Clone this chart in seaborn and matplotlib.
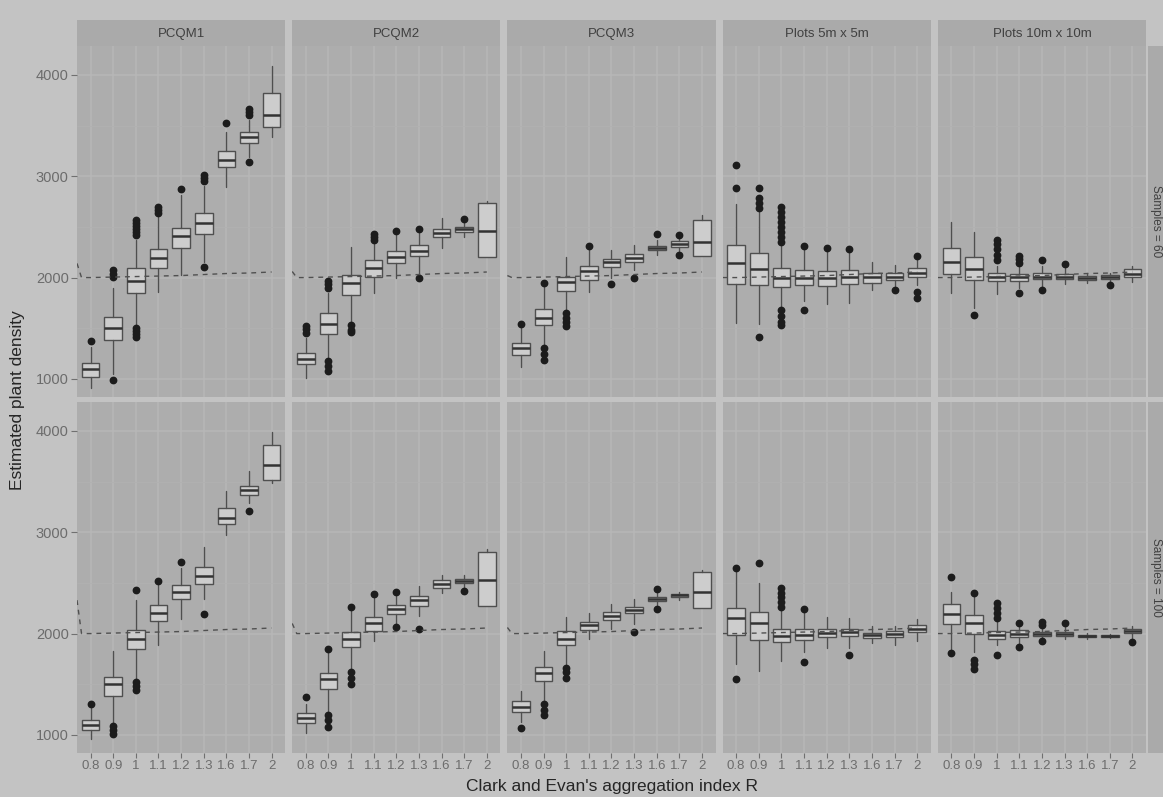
import matplotlib
matplotlib.use("Agg")
import matplotlib.pyplot as plt
import seaborn as sns

# ---------------- categories / labels ----------------
R_LABELS = ["0.8", "0.9", "1", "1.1", "1.2", "1.3", "1.6", "1.7", "2"]
METHODS = ["PCQM1", "PCQM2", "PCQM3", "Plots 5m x 5m", "Plots 10m x 10m"]
SAMPLES = ["Samples = 60", "Samples = 100"]
Y_TICKS = [1000, 2000, 3000, 4000]

# reference (true) density line, and its value at the left panel edge
TRUE_DENSITY = [2000, 2005, 2010, 2015, 2020, 2030, 2040, 2045, 2055]
EDGE_DENSITY_60 = [2140, 2060, 2020, 2000, 2000]
EDGE_DENSITY_100 = [2330, 2100, 2060, 2000, 2000]

# ---------------- Samples = 60 ----------------
pcqm1_60_lo = [910, 1050, 1520, 1860, 2030, 2150, 2890, 3190, 3390]
pcqm1_60_q1 = [1020, 1380, 1850, 2090, 2290, 2430, 3090, 3330, 3490]
pcqm1_60_med = [1100, 1500, 1970, 2190, 2410, 2540, 3160, 3390, 3600]
pcqm1_60_q3 = [1160, 1610, 2090, 2280, 2490, 2640, 3250, 3440, 3820]
pcqm1_60_hi = [1310, 1900, 2370, 2600, 2820, 2900, 3440, 3560, 4090]
pcqm1_60_out = [[1370], [2010, 2040, 2070, 990], [2420, 2450, 2480, 2510, 2540, 2570, 1500, 1470, 1440, 1410],
                [2640, 2670, 2700], [2870], [2950, 2980, 3010, 2100], [3530], [3600, 3630, 3660, 3140], []]

pcqm2_60_lo = [1010, 1220, 1560, 1850, 2000, 2040, 2290, 2400, 2200]
pcqm2_60_q1 = [1150, 1440, 1830, 2010, 2140, 2210, 2400, 2450, 2200]
pcqm2_60_med = [1200, 1540, 1950, 2090, 2200, 2260, 2440, 2480, 2460]
pcqm2_60_q3 = [1260, 1650, 2030, 2170, 2260, 2320, 2480, 2500, 2740]
pcqm2_60_hi = [1400, 1850, 2300, 2330, 2420, 2440, 2590, 2550, 2760]
pcqm2_60_out = [[1450, 1490, 1520], [1900, 1940, 1970, 1180, 1130, 1080], [1530, 1480, 1460],
                [2370, 2400, 2430], [2460], [2480, 2000], [], [2580], []]

pcqm3_60_lo = [1120, 1320, 1680, 1860, 2000, 2070, 2220, 2260, 2210]
pcqm3_60_q1 = [1240, 1530, 1870, 1980, 2100, 2150, 2270, 2300, 2210]
pcqm3_60_med = [1300, 1600, 1960, 2060, 2150, 2190, 2290, 2330, 2350]
pcqm3_60_q3 = [1350, 1690, 2010, 2110, 2180, 2230, 2310, 2360, 2570]
pcqm3_60_hi = [1500, 1920, 2200, 2280, 2270, 2320, 2370, 2400, 2620]
pcqm3_60_out = [[1540], [1950, 1300, 1250, 1190], [1650, 1600, 1560, 1520], [2310], [1940], [2000],
                [2430], [2420, 2220], []]

plot5_60_lo = [1550, 1540, 1700, 1770, 1740, 1750, 1880, 1920, 1930]
plot5_60_q1 = [1940, 1930, 1910, 1930, 1920, 1940, 1950, 1980, 2010]
plot5_60_med = [2140, 2080, 2000, 2000, 2000, 2010, 2010, 2010, 2050]
plot5_60_q3 = [2320, 2240, 2090, 2070, 2060, 2070, 2050, 2050, 2090]
plot5_60_hi = [2730, 2650, 2310, 2280, 2260, 2250, 2150, 2120, 2180]
plot5_60_out = [[2880, 3110], [2690, 2740, 2790, 2880, 1410],
                [2350, 2400, 2450, 2500, 2550, 2600, 2650, 2700, 1680, 1620, 1560, 1530],
                [2310, 1680], [2290], [2280], [], [1880], [2210, 1860, 1800]]

plot10_60_lo = [1850, 1700, 1840, 1900, 1910, 1940, 1950, 1960, 1960]
plot10_60_q1 = [2040, 1980, 1970, 1970, 1990, 1990, 1980, 1990, 2010]
plot10_60_med = [2150, 2080, 2010, 2010, 2010, 2010, 2000, 2010, 2040]
plot10_60_q3 = [2290, 2200, 2050, 2040, 2050, 2040, 2020, 2030, 2080]
plot10_60_hi = [2550, 2450, 2110, 2100, 2110, 2090, 2050, 2050, 2110]
plot10_60_out = [[], [1630], [2170, 2220, 2280, 2330, 2370], [2140, 2180, 2210, 1850], [2170, 1880],
                 [2130], [], [1930], []]

# ---------------- Samples = 100 ----------------
pcqm1_100_lo = [960, 1120, 1550, 1890, 2140, 2340, 2970, 3290, 3490]
pcqm1_100_q1 = [1050, 1380, 1850, 2120, 2340, 2490, 3080, 3370, 3520]
pcqm1_100_med = [1100, 1500, 1950, 2200, 2410, 2570, 3140, 3420, 3660]
pcqm1_100_q3 = [1150, 1570, 2040, 2280, 2480, 2660, 3240, 3460, 3860]
pcqm1_100_hi = [1270, 1830, 2330, 2480, 2650, 2850, 3410, 3600, 3990]
pcqm1_100_out = [[1300], [1090, 1050, 1010], [2430, 1520, 1480, 1440], [2520], [2710], [2190], [],
                 [3210], []]

pcqm2_100_lo = [1020, 1230, 1650, 1930, 2090, 2170, 2400, 2450, 2270]
pcqm2_100_q1 = [1120, 1450, 1870, 2030, 2190, 2270, 2450, 2500, 2270]
pcqm2_100_med = [1170, 1550, 1950, 2100, 2240, 2330, 2490, 2520, 2530]
pcqm2_100_q3 = [1220, 1610, 2020, 2160, 2280, 2370, 2530, 2540, 2810]
pcqm2_100_hi = [1300, 1820, 2220, 2350, 2370, 2470, 2580, 2580, 2830]
pcqm2_100_out = [[1370], [1850, 1200, 1150, 1080], [2260, 1620, 1560, 1500], [2390], [2410, 2060],
                 [2050], [], [2420], []]

pcqm3_100_lo = [1130, 1330, 1700, 1950, 2050, 2090, 2280, 2330, 2250]
pcqm3_100_q1 = [1230, 1530, 1890, 2040, 2130, 2200, 2320, 2360, 2250]
pcqm3_100_med = [1280, 1610, 1950, 2080, 2170, 2230, 2340, 2380, 2410]
pcqm3_100_q3 = [1330, 1670, 2030, 2110, 2210, 2260, 2360, 2390, 2610]
pcqm3_100_hi = [1430, 1830, 2160, 2200, 2290, 2340, 2400, 2410, 2630]
pcqm3_100_out = [[1070], [1300, 1250, 1200], [1660, 1620, 1560], [], [], [2020], [2440, 2240], [], []]

plot5_100_lo = [1700, 1630, 1730, 1820, 1860, 1860, 1910, 1890, 1930]
plot5_100_q1 = [1990, 1940, 1920, 1940, 1970, 1980, 1960, 1970, 2020]
plot5_100_med = [2150, 2100, 1980, 1990, 2010, 2020, 1990, 2000, 2050]
plot5_100_q3 = [2250, 2210, 2050, 2050, 2050, 2050, 2010, 2030, 2080]
plot5_100_hi = [2610, 2500, 2230, 2210, 2160, 2150, 2070, 2070, 2140]
plot5_100_out = [[2650, 1550], [2700], [2260, 2310, 2360, 2400, 2450], [2240, 1720], [], [1790], [], [], []]

plot10_100_lo = [1850, 1820, 1890, 1900, 1940, 1950, 1950, 1960, 1960]
plot10_100_q1 = [2090, 2000, 1950, 1970, 1980, 1980, 1970, 1970, 2010]
plot10_100_med = [2190, 2100, 1990, 2000, 2000, 2000, 1980, 1980, 2030]
plot10_100_q3 = [2290, 2180, 2030, 2040, 2020, 2020, 1990, 1990, 2050]
plot10_100_hi = [2410, 2370, 2120, 2080, 2060, 2070, 2010, 2000, 2070]
plot10_100_out = [[2560, 1810], [2400, 1740, 1700, 1650], [2150, 2200, 2250, 2300, 1790], [2100, 1870],
                  [2110, 2080, 1930], [2100], [], [], [1920]]

PANELS = [
    [(pcqm1_60_lo, pcqm1_60_q1, pcqm1_60_med, pcqm1_60_q3, pcqm1_60_hi, pcqm1_60_out),
     (pcqm2_60_lo, pcqm2_60_q1, pcqm2_60_med, pcqm2_60_q3, pcqm2_60_hi, pcqm2_60_out),
     (pcqm3_60_lo, pcqm3_60_q1, pcqm3_60_med, pcqm3_60_q3, pcqm3_60_hi, pcqm3_60_out),
     (plot5_60_lo, plot5_60_q1, plot5_60_med, plot5_60_q3, plot5_60_hi, plot5_60_out),
     (plot10_60_lo, plot10_60_q1, plot10_60_med, plot10_60_q3, plot10_60_hi, plot10_60_out)],
    [(pcqm1_100_lo, pcqm1_100_q1, pcqm1_100_med, pcqm1_100_q3, pcqm1_100_hi, pcqm1_100_out),
     (pcqm2_100_lo, pcqm2_100_q1, pcqm2_100_med, pcqm2_100_q3, pcqm2_100_hi, pcqm2_100_out),
     (pcqm3_100_lo, pcqm3_100_q1, pcqm3_100_med, pcqm3_100_q3, pcqm3_100_hi, pcqm3_100_out),
     (plot5_100_lo, plot5_100_q1, plot5_100_med, plot5_100_q3, plot5_100_hi, plot5_100_out),
     (plot10_100_lo, plot10_100_q1, plot10_100_med, plot10_100_q3, plot10_100_hi, plot10_100_out)],
]
EDGES = [EDGE_DENSITY_60, EDGE_DENSITY_100]

# ---------------- style ----------------
BG = "#c3c3c3"
PANEL = "#adadad"
STRIP = "#aaaaaa"
GRID = "#b7b7b7"
GRID_MINOR = "#b1b1b1"
BOX_FILL = "#cdcdcd"
EDGE = "#4f4f4f"
MEDIAN = "#333333"
TICK_TXT = "#6c6c6c"
TITLE_TXT = "#262626"

sns.set_theme(style="darkgrid")
plt.rcParams["font.family"] = ["Liberation Sans", "DejaVu Sans"]

W, H = 1163, 797
fig = plt.figure(figsize=(W / 100, H / 100), dpi=100)
fig.patch.set_facecolor(BG)

LEFT, RIGHT, GAP = 77, 1146, 7
PW = (RIGHT - LEFT - 4 * GAP) / 5
ROWS = [(46, 397), (402, 753)]
STRIP_TOP = 20
YLIM = (821, 4286)
XLIM = (-0.6, 8.6)

def fr(x0, y0, x1, y1):
    return [x0 / W, 1 - y1 / H, (x1 - x0) / W, (y1 - y0) / H]

for r in range(2):
    y0, y1 = ROWS[r]
    for c in range(5):
        x0 = LEFT + c * (PW + GAP)
        ax = fig.add_axes(fr(x0, y0, x0 + PW, y1))
        ax.set_facecolor(PANEL)
        lo, q1, med, q3, hi, out = PANELS[r][c]
        stats = [dict(whislo=lo[i], q1=q1[i], med=med[i], q3=q3[i], whishi=hi[i], fliers=out[i])
                 for i in range(len(R_LABELS))]
        ax.bxp(stats, positions=list(range(len(R_LABELS))), widths=0.78, patch_artist=True,
               showcaps=False,
               boxprops=dict(facecolor=BOX_FILL, edgecolor=EDGE, linewidth=1.0),
               medianprops=dict(color=MEDIAN, linewidth=1.8),
               whiskerprops=dict(color=EDGE, linewidth=1.0),
               flierprops=dict(marker="o", markerfacecolor="#1c1c1c", markeredgecolor="#1c1c1c",
                               markersize=4.6))
        # reference density: dashed line, starting at the panel's left edge
        lx = [XLIM[0], XLIM[0] + 0.2] + list(range(len(R_LABELS)))
        ly = [EDGES[r][c], TRUE_DENSITY[0]] + TRUE_DENSITY
        sns.lineplot(x=lx, y=ly, ax=ax, color="#505050", linewidth=1.0, sort=False,
                     estimator=None, linestyle=(0, (3.5, 3.5)), zorder=6)
        ax.set_xlim(*XLIM)
        ax.set_ylim(*YLIM)
        ax.set_xticks(range(len(R_LABELS)))
        ax.set_yticks(Y_TICKS)
        ax.set_yticks([1500, 2500, 3500], minor=True)
        ax.grid(which="major", color=GRID, linewidth=1.1)
        ax.grid(which="minor", axis="y", color=GRID_MINOR, linewidth=0.6)
        ax.set_axisbelow(True)
        for s in ax.spines.values():
            s.set_visible(False)
        ax.tick_params(axis="both", which="minor", length=0)
        if c == 0:
            ax.set_yticklabels([str(v) for v in Y_TICKS], fontsize=10.5, color=TICK_TXT)
            ax.tick_params(axis="y", which="major", length=4, width=0.8, color="#707070",
                           pad=2, left=True)
        else:
            ax.set_yticklabels([])
            ax.tick_params(axis="y", which="major", length=0)
        if r == 1:
            ax.set_xticklabels(R_LABELS, fontsize=9.5, color=TICK_TXT)
            ax.tick_params(axis="x", which="major", length=3.5, width=0.8, color="#707070",
                           pad=1.5, bottom=True)
        else:
            ax.set_xticklabels([])
            ax.tick_params(axis="x", which="major", length=0)
        ax.set_xlabel("")
        ax.set_ylabel("")

        # top strips
        if r == 0:
            sax = fig.add_axes(fr(x0, STRIP_TOP, x0 + PW, y0))
            sax.set_facecolor(STRIP)
            sax.set_xticks([]); sax.set_yticks([])
            for s in sax.spines.values():
                s.set_visible(False)
            sax.text(0.5, 0.45, METHODS[c], ha="center", va="center", fontsize=9.5,
                     color="#404040", transform=sax.transAxes)
    # right strips
    rax = fig.add_axes(fr(RIGHT + 2, y0, W, y1))
    rax.set_facecolor(STRIP)
    rax.set_xticks([]); rax.set_yticks([])
    for s in rax.spines.values():
        s.set_visible(False)
    rax.text(0.5, 0.5, SAMPLES[r], ha="center", va="center", rotation=-90, fontsize=8.5,
             color="#404040", transform=rax.transAxes)

fig.text(18 / W, 1 - 400 / H, "Estimated plant density", rotation=90, ha="center", va="center",
         fontsize=12.5, color=TITLE_TXT)
fig.text((LEFT + RIGHT) / 2 / W, 1 - 787 / H, "Clark and Evan's aggregation index R", ha="center",
         va="center", fontsize=12.5, color=TITLE_TXT)

fig.savefig("out.png", dpi=100, facecolor=BG)
